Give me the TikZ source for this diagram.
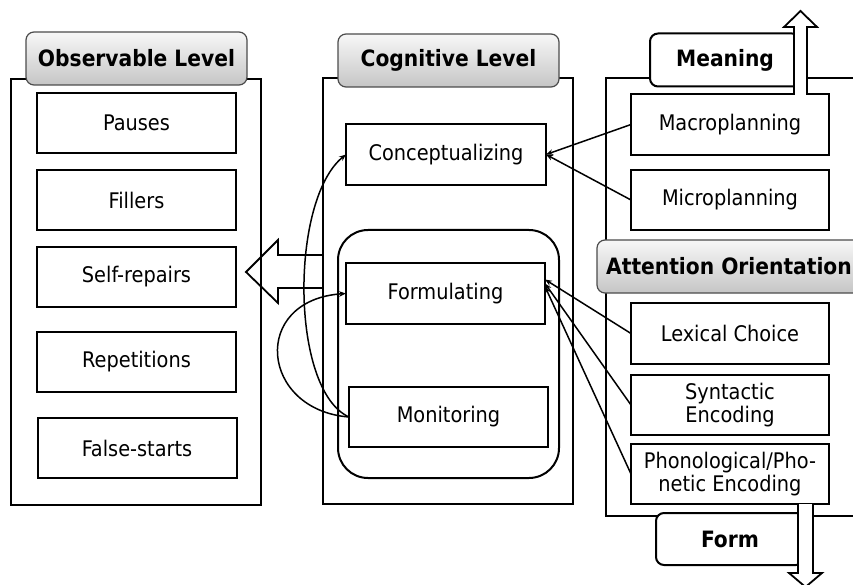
\documentclass[tikz,border=0pt]{standalone}
\usepackage{fontspec}
\setmainfont{DejaVu Sans Condensed}
\usetikzlibrary{arrows.meta}
\tikzset{
  panel/.style={draw, line width=2.2pt, inner sep=0pt, outer sep=0pt},
  itembox/.style={draw, line width=2pt, fill=white, inner sep=0pt, outer sep=0pt,
    minimum width=199pt, minimum height=60pt, align=center,
    font=\fontsize{21.5}{23.5}\selectfont},
  titlebox/.style={draw=black!70, line width=1.2pt, rounded corners=8pt,
    top color=gray!6, bottom color=gray!45, inner sep=0pt, outer sep=0pt,
    minimum height=53pt, font=\bfseries\fontsize{22.5}{24}\selectfont},
  whitetitle/.style={draw, line width=2pt, rounded corners=8pt, fill=white,
    inner sep=0pt, outer sep=0pt, minimum height=53pt,
    font=\bfseries\fontsize{22.5}{24}\selectfont},
  groupbox/.style={draw, line width=2pt, rounded corners=30pt, inner sep=0pt, outer sep=0pt},
  conn/.style={line width=1.5pt, -{Stealth[length=7pt,width=5.5pt]}},
  blockarrow/.style={draw, line width=1.8pt, line join=miter},
}
\begin{document}
\begin{tikzpicture}[x=1pt,y=-1pt]
\clip (0,0) rectangle (853,585);
\fill[white] (0,0) rectangle (853,585);

% panels
\node[panel, minimum width=250pt, minimum height=426pt] (lp) at (136,292) {};
\node[panel, minimum width=250pt, minimum height=426pt] (mp) at (448,291) {};
\node[panel, minimum width=264pt, minimum height=438pt] (rp) at (738,297) {};

% titles
\node[titlebox, minimum width=221pt] (obs) at (136.5,58.5) {Observable Level};
\node[titlebox, minimum width=221pt] (cog) at (448.5,60.5) {Cognitive Level};
\node[whitetitle, minimum width=150pt] (mean) at (725,60) {Meaning};
\node[titlebox, minimum width=264pt] (att) at (729,266.5) {Attention Orientation};
\node[whitetitle, minimum width=148pt, minimum height=52pt] (form) at (730,539) {Form};

% left items
\node[itembox] (pau) at (136.5,123) {Pauses};
\node[itembox] (fil) at (136.5,200) {Fillers};
\node[itembox] (sel) at (136.5,277) {Self-repairs};
\node[itembox] (rep) at (136.5,362) {Repetitions};
\node[itembox] (fal) at (137,448) {False-starts};

% middle items
\node[groupbox, minimum width=221pt, minimum height=248pt] (grp) at (448.5,354) {};
\node[itembox, minimum width=200pt, minimum height=61pt] (con) at (446,154.5) {Conceptualizing};
\node[itembox, minimum height=61pt] (fmu) at (445.5,293.5) {Formulating};
\node[itembox] (mon) at (448.5,417) {Monitoring};

% right items
\node[itembox, minimum width=198pt, minimum height=61pt] (mac) at (730,124.5) {Macroplanning};
\node[itembox, minimum width=198pt] (mic) at (730,200) {Microplanning};
\node[itembox, minimum width=198pt, minimum height=61pt] (lex) at (730,333.5) {Lexical Choice};
\node[itembox, minimum width=198pt] (syn) at (730,405) {Syntactic\\Encoding};
\node[itembox, minimum width=198pt] (pho) at (730,474) {Phonological/Pho-\\netic Encoding};

% big left arrow
\draw[blockarrow] (323,255) -- (278,255) -- (278,240) -- (246,272) -- (278,303) -- (278,288) -- (323,288);

% curves
\draw[conn] (mon.west) .. controls (290,390) and (290,200) .. (con.west);
\draw[conn] (mon.west) .. controls (260,410) and (250,300) .. (fmu.west);

% straight connectors
\draw[conn] (mac.west) -- (con.east);
\draw[conn] (mic.west) -- (con.east);
\draw[conn] (lex.west) -- ([yshift=14pt]fmu.east);
\draw[conn] (syn.west) -- ([yshift=10pt]fmu.east);
\draw[conn] (pho.west) -- ([yshift=7pt]fmu.east);

% up / down block arrows
\draw[blockarrow, fill=white] (794,95) -- (794,27) -- (784,27) -- (800.5,11) -- (817,27) -- (807,27) -- (807,95);
\draw[blockarrow, fill=white] (798,504) -- (798,573) -- (789,573) -- (805.5,587) -- (822,573) -- (813,573) -- (813,504);
\end{tikzpicture}
\end{document}
